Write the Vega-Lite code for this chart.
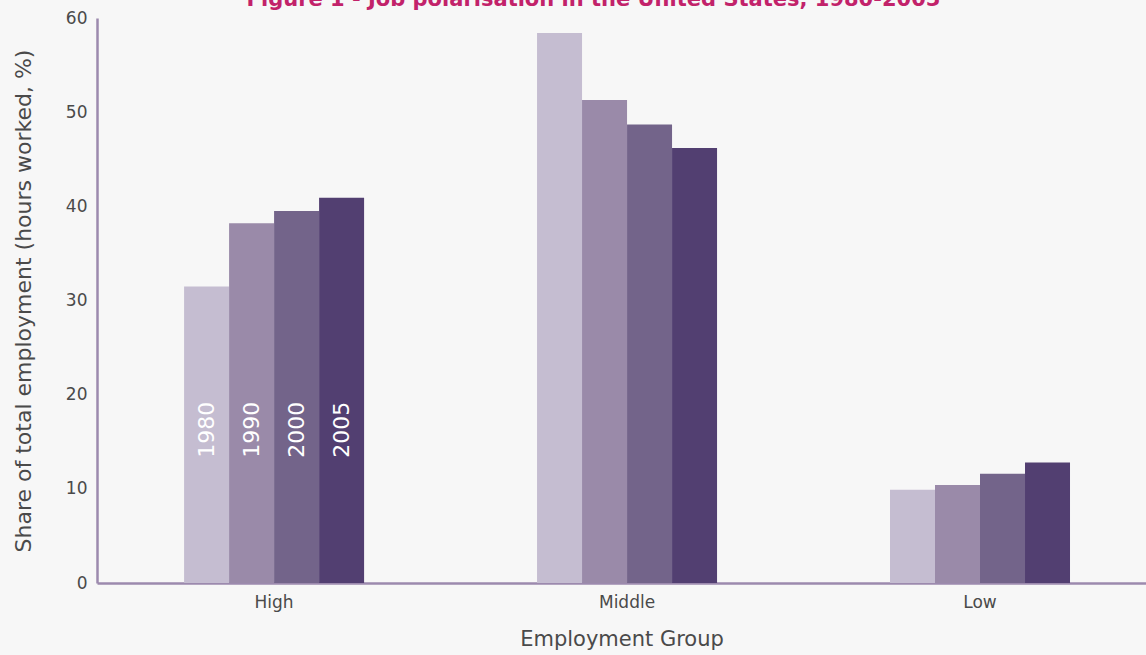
{
  "$schema": "https://vega.github.io/schema/vega-lite/v6.json",
  "width": 1049,
  "height": 565,
  "autosize": {"type": "none"},
  "padding": {"left": 97, "top": 18, "right": 0, "bottom": 72},
  "background": "#f7f7f7",
  "view": {"stroke": null},
  "title": {
    "text": "Figure 1 - Job polarisation in the United States, 1980-2005",
    "color": "#c2226a",
    "fontSize": 21,
    "fontWeight": "bold",
    "font": "DejaVu Sans",
    "anchor": "middle",
    "baseline": "alphabetic",
    "offset": -18,
    "dx": -28
  },
  "data": {
    "values": [
      {"group": "High", "year": "1980", "share": 31.5},
      {"group": "High", "year": "1990", "share": 38.2},
      {"group": "High", "year": "2000", "share": 39.5},
      {"group": "High", "year": "2005", "share": 40.9},
      {"group": "Middle", "year": "1980", "share": 58.4},
      {"group": "Middle", "year": "1990", "share": 51.3},
      {"group": "Middle", "year": "2000", "share": 48.7},
      {"group": "Middle", "year": "2005", "share": 46.2},
      {"group": "Low", "year": "1980", "share": 9.9},
      {"group": "Low", "year": "1990", "share": 10.4},
      {"group": "Low", "year": "2000", "share": 11.6},
      {"group": "Low", "year": "2005", "share": 12.8}
    ]
  },
  "encoding": {
    "x": {
      "field": "group",
      "type": "nominal",
      "sort": ["High", "Middle", "Low"],
      "scale": {"paddingInner": 0.49, "paddingOuter": 0.231, "align": 0.534},
      "axis": {
        "title": "Employment Group",
        "titleFont": "DejaVu Sans",
        "titleFontSize": 21,
        "titleFontWeight": "normal",
        "titleColor": "#4a4a4a",
        "titlePadding": 18,
        "labelFont": "DejaVu Sans",
        "labelFontSize": 17,
        "labelColor": "#4a4a4a",
        "labelAngle": 0,
        "labelPadding": 11,
        "ticks": false,
        "domainColor": "#9c8aae",
        "domainWidth": 2.5
      }
    },
    "xOffset": {"field": "year", "type": "nominal", "scale": {"paddingInner": 0}}
  },
  "layer": [
    {
      "mark": {"type": "bar"},
      "encoding": {
        "y": {
          "field": "share",
          "type": "quantitative",
          "scale": {"domain": [0, 60]},
          "axis": {
            "title": "Share of total employment (hours worked, %)",
            "titleFont": "DejaVu Sans",
            "titleFontSize": 22,
            "titleFontWeight": "normal",
            "titleColor": "#4a4a4a",
            "titlePadding": 30,
            "labelFont": "DejaVu Sans",
            "labelFontSize": 17,
            "labelColor": "#4a4a4a",
            "labelPadding": 10,
            "ticks": false,
            "grid": false,
            "tickCount": 6,
            "domainColor": "#9c8aae",
            "domainWidth": 2.5
          }
        },
        "color": {
          "field": "year",
          "type": "nominal",
          "scale": {"domain": ["1980", "1990", "2000", "2005"], "range": ["#c5bdd1", "#9a8aa9", "#73648a", "#523f71"]},
          "legend": null
        }
      }
    },
    {
      "transform": [{"filter": "datum.group === 'High'"}],
      "mark": {"type": "text", "angle": 270, "align": "left", "baseline": "middle", "color": "#ffffff", "font": "DejaVu Sans", "fontSize": 22, "fontWeight": 500},
      "encoding": {
        "y": {"datum": 13.3, "type": "quantitative"},
        "text": {"field": "year"}
      }
    }
  ]
}
